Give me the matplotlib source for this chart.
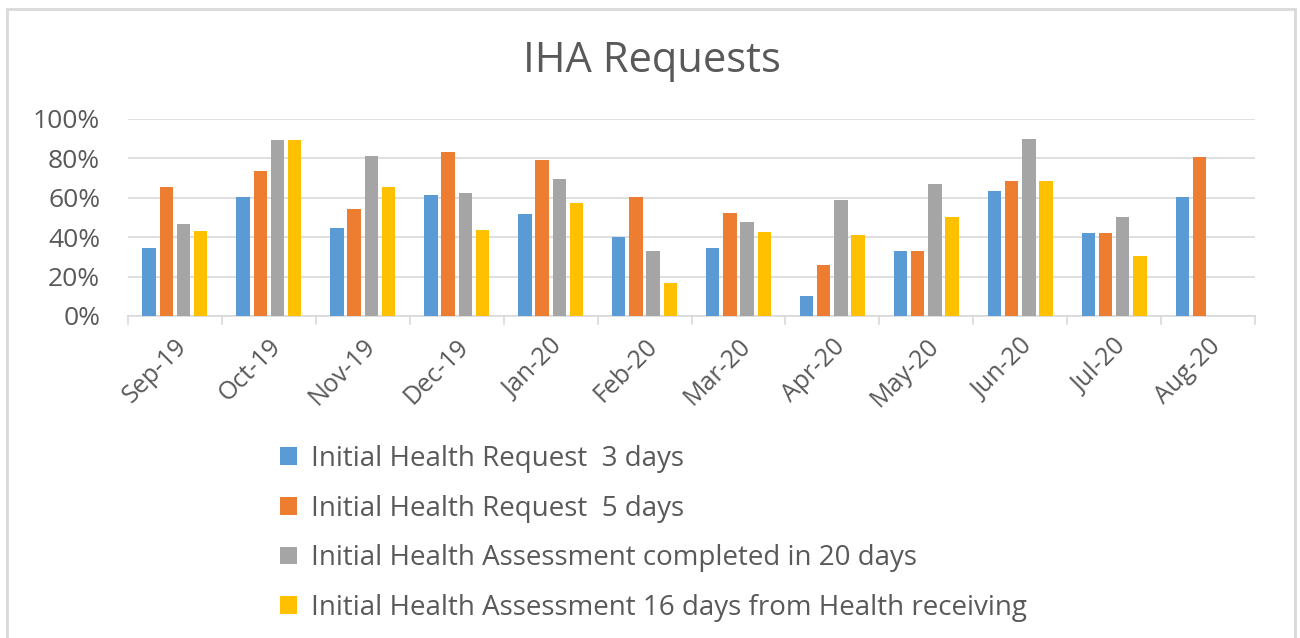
import matplotlib.pyplot as plt
import numpy as np
from matplotlib.patches import Rectangle

months = ['Sep-19', 'Oct-19', 'Nov-19', 'Dec-19', 'Jan-20', 'Feb-20',
          'Mar-20', 'Apr-20', 'May-20', 'Jun-20', 'Jul-20', 'Aug-20']

req_3_days = [34.7, 60.5, 44.7, 61.2, 51.9, 40.3, 34.7, 10.2, 33.2, 63.4, 41.9, 60.5]
req_5_days = [65.4, 73.6, 54.1, 83.4, 79.2, 60.5, 52.5, 26.1, 33.2, 68.3, 41.9, 80.5]
assess_20_days = [46.8, 89.2, 81.2, 62.5, 69.7, 33.2, 47.5, 59.0, 66.8, 89.8, 50.3, 0]
assess_16_days = [43.2, 89.2, 65.4, 43.9, 57.6, 16.8, 42.5, 41.0, 50.3, 68.3, 30.3, 0]

series_names = ['Initial Health Request  3 days',
                'Initial Health Request  5 days',
                'Initial Health Assessment completed in 20 days',
                'Initial Health Assessment 16 days from Health receiving']
colors = ['#5b9bd5', '#ed7d31', '#a5a5a5', '#ffc000']

plt.rcParams['font.family'] = ['Open Sans', 'DejaVu Sans']
text_color = '#595959'

fig = plt.figure(figsize=(13, 6.38), dpi=100)
ax = fig.add_axes([128 / 1300, 1 - 316 / 638, (1255 - 128) / 1300, (316 - 119) / 638])

x = np.arange(len(months))
width = 0.143
pitch = 0.183
all_series = [req_3_days, req_5_days, assess_20_days, assess_16_days]
for i, (vals, name, col) in enumerate(zip(all_series, series_names, colors)):
    ax.bar(x + (i - 1.5) * pitch, vals, width, color=col, label=name, zorder=3)

ax.set_xlim(-0.5, len(months) - 0.5)
ax.set_ylim(0, 100)
ax.set_yticks(np.arange(0, 101, 20))
ax.set_yticklabels([f'{v}%' for v in range(0, 101, 20)])
ax.yaxis.grid(True, color='#d9d9d9', linewidth=1.2, zorder=0)
ax.tick_params(axis='y', length=0, labelsize=19, labelcolor=text_color, pad=20)

ax.set_xticks(x)
ax.set_xticklabels(months, rotation=45, ha='right', rotation_mode='anchor')
ax.tick_params(axis='x', length=0, labelsize=18, labelcolor=text_color, pad=13)
# category separator ticks below the axis
for b in np.arange(-0.5, len(months), 1.0):
    ax.plot([b, b], [0, -4], color='#d9d9d9', linewidth=1.2, clip_on=False, zorder=2)

for side in ['top', 'right', 'left']:
    ax.spines[side].set_visible(False)
ax.spines['bottom'].set_color('#d9d9d9')
ax.spines['bottom'].set_linewidth(1.2)

fig.text(652 / 1300, 1 - 61 / 638, 'IHA Requests', ha='center', va='center',
         fontsize=30, color=text_color)

handles, labels = ax.get_legend_handles_labels()
fig.legend(handles, labels, loc='upper left', bbox_to_anchor=(280 / 1300, 1 - 445 / 638),
           frameon=False, fontsize=20, labelcolor=text_color, borderpad=0, borderaxespad=0,
           handlelength=0.6, handleheight=0.6, handletextpad=0.5, labelspacing=0.78)

fig.patches.append(Rectangle((7 / 1300, -0.01), (1295 - 7) / 1300, 1 - 9 / 638 + 0.01,
                             transform=fig.transFigure, fill=False,
                             edgecolor='#d9d9d9', linewidth=2))

fig.savefig('out.png', dpi=100, facecolor='white')
